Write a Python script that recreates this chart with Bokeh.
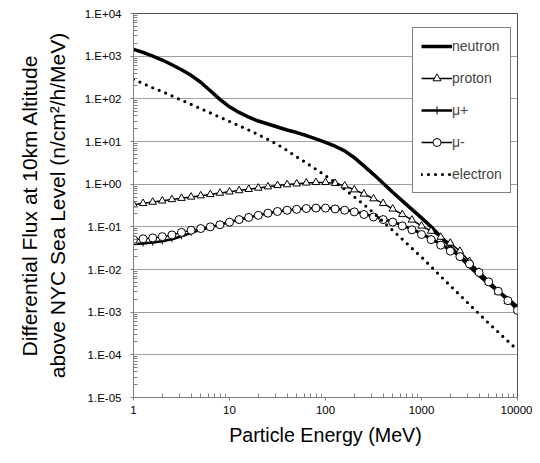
from bokeh.plotting import figure
from bokeh.models import Legend, LegendItem, CustomJSTickFormatter, FixedTicker
from bokeh.embed import file_html
from bokeh.resources import INLINE

# ---------------- data ----------------
energy = [1, 1.259, 1.585, 1.995, 2.512, 3.162, 3.981, 5.012, 6.31, 7.943,
          10, 12.59, 15.85, 19.95, 25.12, 31.62, 39.81, 50.12, 63.1, 79.43,
          100, 125.9, 158.5, 199.5, 251.2, 316.2, 398.1, 501.2, 631, 794.3,
          1000, 1259, 1585, 1995, 2512, 3162, 3981, 5012, 6310, 7943, 10000]

neutron = [1445, 1230, 1000, 813, 630, 480, 355, 245, 155, 97,
           65, 48, 37.2, 30.2, 25.7, 21.9, 18.6, 16.2, 13.8, 11.5,
           9.55, 7.76, 6.03, 4.17, 2.69, 1.70, 1.05, 0.646, 0.407, 0.257,
           0.162, 0.100, 0.0589, 0.0347, 0.0200, 0.0117, 0.00724, 0.00468, 0.00309, 0.00204,
           0.00132]

proton = [0.331, 0.355, 0.380, 0.407, 0.437, 0.468, 0.501, 0.537, 0.575, 0.617,
          0.661, 0.708, 0.759, 0.813, 0.871, 0.933, 0.977, 1.02, 1.07, 1.10,
          1.10, 1.05, 0.912, 0.741, 0.589, 0.457, 0.355, 0.263, 0.195, 0.145,
          0.105, 0.0794, 0.0575, 0.0417, 0.0269, 0.0155, 0.00871, 0.00501, 0.00295, 0.00178,
          0.00112]

mu_plus = [0.0398, 0.0407, 0.0427, 0.0457, 0.0513, 0.0603, 0.0724, 0.0851, 0.0977, 0.112,
           0.129, 0.148, 0.166, 0.186, 0.209, 0.229, 0.245, 0.257, 0.269, 0.275,
           0.275, 0.269, 0.251, 0.229, 0.204, 0.178, 0.155, 0.132, 0.110, 0.0891,
           0.0708, 0.0537, 0.0398, 0.0288, 0.0209, 0.0141, 0.00891, 0.00537, 0.00324, 0.00195,
           0.00115]

mu_minus = [0.0501, 0.0525, 0.0550, 0.0589, 0.0646, 0.0741, 0.0832, 0.0912, 0.100, 0.112,
            0.129, 0.148, 0.166, 0.186, 0.209, 0.229, 0.245, 0.257, 0.269, 0.275,
            0.275, 0.263, 0.245, 0.224, 0.195, 0.170, 0.148, 0.129, 0.105, 0.0851,
            0.0661, 0.0501, 0.0372, 0.0269, 0.0200, 0.0135, 0.00851, 0.00513, 0.00309, 0.00186,
            0.00110]

electron = [288, 229, 182, 148, 117, 93.3, 74.1, 58.9, 46.8, 37.2,
            29.5, 23.4, 18.6, 14.5, 11.2, 8.51, 6.17, 4.37, 3.16, 2.24,
            1.58, 1.10, 0.759, 0.501, 0.331, 0.214, 0.132, 0.0832, 0.0513, 0.0316,
            0.0195, 0.0117, 0.00692, 0.00417, 0.00251, 0.00151, 0.000912, 0.000550, 0.000339, 0.000209,
            0.000129]

series_names = ["neutron", "proton", "\u03bc+", "\u03bc-", "electron"]

y_tick_values = [1e-5, 1e-4, 1e-3, 1e-2, 1e-1, 1e0, 1e1, 1e2, 1e3, 1e4]
y_tick_labels = ["1.E-05", "1.E-04", "1.E-03", "1.E-02", "1.E-01",
                 "1.E+00", "1.E+01", "1.E+02", "1.E+03", "1.E+04"]
x_tick_values = [1, 10, 100, 1000, 10000]
x_tick_labels = ["1", "10", "100", "1000", "10000"]

x_label = "Particle Energy (MeV)"
y_label = "Differential Flux at 10km Altitude\nabove NYC Sea Level (n/cm\u00b2/h/MeV)"

# ---------------- figure ----------------
FONT = "Liberation Sans"

p = figure(width=532, height=455, x_axis_type="log", y_axis_type="log",
           x_range=(1, 10000), y_range=(1e-5, 1e4),
           output_backend="svg", toolbar_location=None,
           min_border_left=133, min_border_right=15,
           min_border_top=13, min_border_bottom=58)
p.background_fill_color = "white"
p.border_fill_color = "white"
p.outline_line_color = "#505050"
p.outline_line_width = 1

def minor_for(majors):
    out = []
    for m in majors[:-1]:
        for k in range(2, 10):
            out.append(m * k)
    return out

p.yaxis.ticker = FixedTicker(ticks=y_tick_values, minor_ticks=minor_for(y_tick_values))
p.xaxis.ticker = FixedTicker(ticks=x_tick_values, minor_ticks=minor_for(x_tick_values))

fmt_code = """
for (let i = 0; i < vals.length; i++) {
  if (Math.abs(Math.log10(vals[i]) - Math.log10(tick)) < 1e-6) { return labels[i]; }
}
return "";
"""
p.yaxis.formatter = CustomJSTickFormatter(args=dict(vals=y_tick_values, labels=y_tick_labels), code=fmt_code)
p.xaxis.formatter = CustomJSTickFormatter(args=dict(vals=x_tick_values, labels=x_tick_labels), code=fmt_code)

for ax in (p.xaxis, p.yaxis):
    ax.axis_line_color = "#808080"
    ax.axis_line_width = 1
    ax.major_tick_line_color = "#808080"
    ax.minor_tick_line_color = "#808080"
    ax.major_tick_out = 3
    ax.major_tick_in = 0
    ax.minor_tick_in = 4
    ax.minor_tick_out = 0
    ax.major_label_text_font = FONT
    ax.major_label_text_font_size = "11.5px"
    ax.major_label_text_color = "black"
    ax.axis_label_text_font = FONT
    ax.axis_label_text_font_style = "normal"
    ax.axis_label_text_color = "black"

p.yaxis.major_label_standoff = 9
p.xaxis.major_label_standoff = 5
p.xaxis.axis_label = x_label
p.xaxis.axis_label_text_font_size = "19.7px"
p.xaxis.axis_label_standoff = 7
p.yaxis.axis_label = y_label
p.yaxis.axis_label_text_font_size = "21px"
p.yaxis.axis_label_standoff = 13

p.ygrid.grid_line_color = "#a0a0a0"
p.ygrid.grid_line_width = 1
p.ygrid.minor_grid_line_color = None
p.xgrid.grid_line_color = None

# ---------------- series ----------------
r_n = p.line(energy, neutron, line_color="black", line_width=3.5)

r_pl = p.line(energy, proton, line_color="black", line_width=1.5)
r_ps = p.scatter(energy, proton, marker="triangle", size=7.5,
                 fill_color="white", line_color="black", line_width=1)

r_ul = p.line(energy, mu_plus, line_color="black", line_width=2.5)
r_us = p.scatter(energy, mu_plus, marker="cross", size=6,
                 line_color="black", line_width=1)

r_ml = p.line(energy, mu_minus, line_color="black", line_width=1.5)
r_ms = p.scatter(energy, mu_minus, marker="circle", size=8,
                 fill_color="white", line_color="black", line_width=1)

r_e = p.line(energy, electron, line_color="black", line_width=3.2,
             line_dash="0 7", line_cap="round")

legend = Legend(items=[
    LegendItem(label=series_names[0], renderers=[r_n]),
    LegendItem(label=series_names[1], renderers=[r_pl, r_ps]),
    LegendItem(label=series_names[2], renderers=[r_ul, r_us]),
    LegendItem(label=series_names[3], renderers=[r_ml, r_ms]),
    LegendItem(label=series_names[4], renderers=[r_e]),
], location=(279, 204))
legend.border_line_color = "black"
legend.border_line_width = 1
legend.background_fill_color = "white"
legend.background_fill_alpha = 1
legend.label_text_font = FONT
legend.label_text_font_size = "14px"
legend.glyph_width = 31
legend.glyph_height = 20
legend.label_height = 20
legend.spacing = 12
legend.padding = 8
legend.margin = 0
legend.label_standoff = 0
p.add_layout(legend)

open("out.html", "w").write(file_html(p, INLINE))
